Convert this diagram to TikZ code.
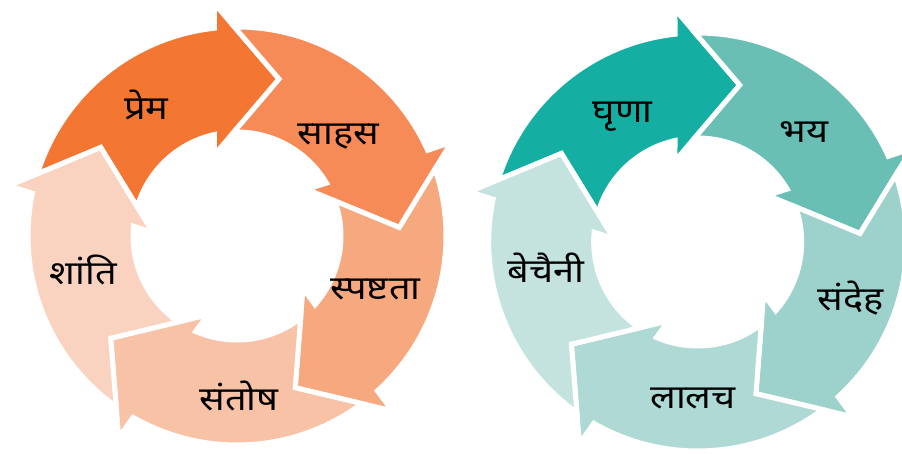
\documentclass[tikz,border=0pt]{standalone}
\usepackage{fontspec}
\newfontfamily\devfont[Script=Devanagari, FakeStretch=1.15]{Noto Sans}
\usepackage{xcolor}

\definecolor{warmA}{HTML}{F37633}
\definecolor{warmB}{HTML}{F68B58}
\definecolor{warmC}{HTML}{F6A87F}
\definecolor{warmD}{HTML}{F8C2A7}
\definecolor{warmE}{HTML}{FAD3C0}
\definecolor{coolA}{HTML}{14AFA2}
\definecolor{coolB}{HTML}{6ABFB5}
\definecolor{coolC}{HTML}{9CD2CB}
\definecolor{coolD}{HTML}{AFD9D4}
\definecolor{coolE}{HTML}{C4E3DF}

\tikzset{
	cycle arrow/.style = {fill = #1, draw = white, line width = 5pt, line join = miter},
	cycle label/.style = {anchor = base, font = \devfont\fontsize{33}{40}\selectfont}
}

% one block arrow of the ring, head at 75 deg, tail notched by the head before it
\newcommand{\cyclearrow}[1]{%
	\draw [cycle arrow = #1] (96.2:\rout) arc [start angle = 96.2, end angle = 162.7, radius = \rout]
		-- (147:\rtip) -- (163.7:\rin)
		arc [start angle = 163.7, end angle = 102.6, radius = \rin]
		-- (105.7:84.1) -- (75:\rtip) -- (95.6:233.8) -- cycle;%
}

\begin{document}
\begin{tikzpicture}[x = 1pt, y = 1pt]
		\def\rout{209}
		\def\rin{104}
		\def\rtip{162.5}
		
		\useasboundingbox (0,0) rectangle (902,453);
		
		% warm ring
		\begin{scope}[shift = {(237,217)}]
			\foreach \col [count = \i from 0] in {warmA, warmB, warmC, warmD, warmE}
			{
				\begin{scope}[rotate = -72*\i]
					\cyclearrow{\col}
				\end{scope}
			}
			\node [cycle label] (prem) at (-90.5,116) {प्रेम};
			\node [cycle label] (sahas) at (101.3,91) {साहस};
			\node [cycle label] (spashtata) at (138.5,-63) {स्पष्टता};
			\node [cycle label] (santosh) at (2,-174) {संतोष};
			\node [cycle label] (shanti) at (-153.5,-49) {शांति};
		\end{scope}
		
		% cool ring
		\begin{scope}[shift = {(697.7,211)}]
			\foreach \col [count = \i from 0] in {coolA, coolB, coolC, coolD, coolE}
			{
				\begin{scope}[rotate = -72*\i]
					\cyclearrow{\col}
				\end{scope}
			}
			\node [cycle label] (ghrina) at (-75,119) {घृणा};
			\node [cycle label] (bhay) at (106.3,99) {भय};
			\node [cycle label] (sandeh) at (152.8,-68) {संदेह};
			\node [cycle label] (lalach) at (-4.7,-166) {लालच};
			\node [cycle label] (bechaini) at (-151.7,-40) {बेचैनी};
		\end{scope}
	\end{tikzpicture}
\end{document}
